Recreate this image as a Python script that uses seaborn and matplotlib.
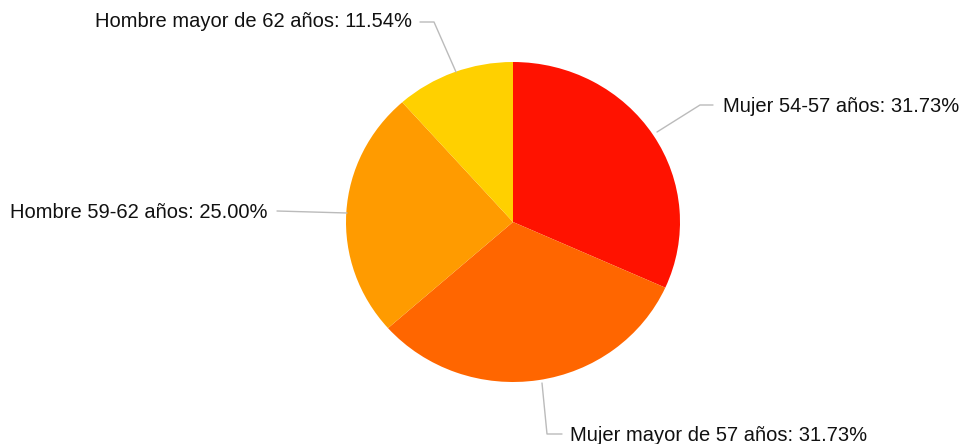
import matplotlib
matplotlib.use("Agg")
import matplotlib.pyplot as plt
import seaborn as sns

labels = ["Mujer 54-57 años", "Mujer mayor de 57 años", "Hombre 59-62 años", "Hombre mayor de 62 años"]
values = [31.73, 31.73, 25.00, 11.54]
colors = ["#FF1200", "#FF6600", "#FF9B00", "#FFD000"]

sns.set_theme(style="white")
plt.rcParams['font.family'] = ['Liberation Sans', 'DejaVu Sans']

W, H = 961, 444
K = 167 / 160.0  # vertical squash so the pie is slightly elliptical

def P(x, y):
    return x, (H - y) * K

fig = plt.figure(figsize=(W / 100, H / 100), dpi=100)
ax = fig.add_axes([0, 0, 1, 1])
cx, cy = P(513, 222)
wedges, _ = ax.pie(values, colors=colors, startangle=90, counterclock=False,
                   center=(cx, cy), radius=167, frame=True,
                   wedgeprops=dict(linewidth=0))
ax.set_aspect('auto')
ax.set_xlim(0, W)
ax.set_ylim(0, H * K)
ax.axis('off')

fs = 14.5
line_kw = dict(color="#BBBBBB", lw=1.0)

texts = [
    (labels[0], values[0], (723, 107), 'left', [(713, 105), (700, 105), (657, 132)]),
    (labels[1], values[1], (570, 435), 'left', [(562, 434), (547, 434), (542, 383)]),
    (labels[2], values[2], (268, 212), 'right', [(277, 211), (347, 213)]),
    (labels[3], values[3], (412, 22), 'right', [(420, 22), (434, 22), (456, 72)]),
]
for lab, v, (tx, ty), ha, pts in texts:
    x, y = P(tx, ty)
    ax.text(x, y, f"{lab}: {v:.2f}%", ha=ha, va='center', fontsize=fs, color="#111111")
    xs = [P(*p)[0] for p in pts]
    ys = [P(*p)[1] for p in pts]
    ax.plot(xs, ys, **line_kw)

fig.savefig("out.png", dpi=100, facecolor="white")
